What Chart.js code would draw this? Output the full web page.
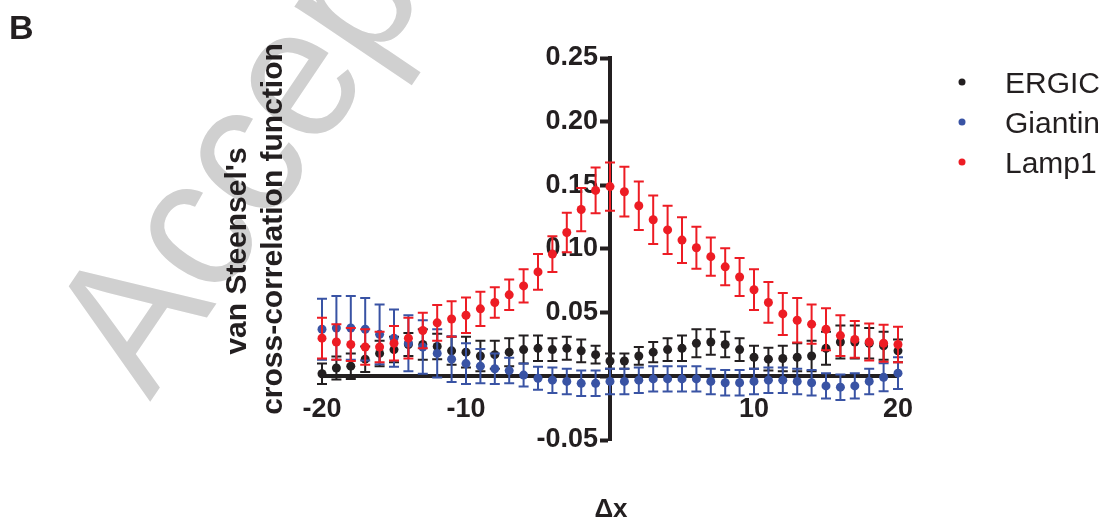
<!DOCTYPE html>
<html>
<head>
<meta charset="utf-8">
<script src="https://cdn.jsdelivr.net/npm/chart.js@4.4.0/dist/chart.umd.min.js"></script>
<style>
  html, body { margin: 0; padding: 0; background: #fff; }
  #wrap { position: relative; width: 1109px; height: 530px; }
</style>
</head>
<body>
<div id="wrap"><canvas id="ccf-chart"></canvas></div>
<script>
// pixel shift (delta x) of the cross-correlation
const deltaX = [-20, -19, -18, -17, -16, -15, -14, -13, -12, -11, -10, -9, -8, -7, -6, -5, -4, -3, -2, -1,
  0, 1, 2, 3, 4, 5, 6, 7, 8, 9, 10, 11, 12, 13, 14, 15, 16, 17, 18, 19, 20];

// mean values
const ergic = [0.002, 0.0065, 0.008, 0.0135, 0.018, 0.021, 0.025, 0.025, 0.0235, 0.020, 0.019, 0.016, 0.017, 0.019, 0.021, 0.022, 0.021, 0.022, 0.020, 0.017,
  0.012, 0.012, 0.016, 0.019, 0.021, 0.022, 0.026, 0.027, 0.025, 0.021, 0.015, 0.0135, 0.014, 0.015, 0.016, 0.022, 0.027, 0.027, 0.026, 0.024, 0.020];
const giantin = [0.037, 0.038, 0.038, 0.037, 0.033, 0.030, 0.026, 0.023, 0.018, 0.0135, 0.010, 0.008, 0.006, 0.0045, 0.001, -0.0015, -0.003, -0.004, -0.0055, -0.0055,
  -0.004, -0.004, -0.003, -0.002, -0.002, -0.002, -0.002, -0.004, -0.005, -0.005, -0.004, -0.003, -0.003, -0.004, -0.005, -0.0075, -0.0085, -0.0075, -0.004, -0.0007, 0.0025];
const lamp1 = [0.030, 0.027, 0.025, 0.023, 0.023, 0.026, 0.030, 0.036, 0.042, 0.045, 0.048, 0.053, 0.058, 0.064, 0.071, 0.082, 0.096, 0.113, 0.131, 0.146,
  0.149, 0.145, 0.134, 0.123, 0.115, 0.107, 0.101, 0.094, 0.086, 0.078, 0.068, 0.058, 0.049, 0.044, 0.041, 0.037, 0.032, 0.029, 0.027, 0.026, 0.025];

// error bar half lengths
const ergicErr = [0.008, 0.009, 0.010, 0.010, 0.010, 0.010, 0.009, 0.012, 0.010, 0.011, 0.012, 0.012, 0.011, 0.011, 0.011, 0.010, 0.009, 0.009, 0.009, 0.007,
  0.006, 0.006, 0.007, 0.008, 0.009, 0.010, 0.011, 0.010, 0.010, 0.009, 0.009, 0.009, 0.010, 0.011, 0.012, 0.013, 0.013, 0.013, 0.012, 0.011, 0.009];
const giantinErr = [0.024, 0.025, 0.025, 0.0245, 0.0235, 0.0225, 0.022, 0.021, 0.019, 0.018, 0.016, 0.0135, 0.012, 0.010, 0.009, 0.009, 0.010, 0.010, 0.010, 0.010,
  0.010, 0.010, 0.010, 0.010, 0.010, 0.010, 0.010, 0.010, 0.010, 0.010, 0.010, 0.010, 0.010, 0.010, 0.010, 0.010, 0.010, 0.010, 0.010, 0.011, 0.0125];
const lamp1Err = [0.016, 0.014, 0.013, 0.014, 0.012, 0.0135, 0.016, 0.014, 0.014, 0.014, 0.014, 0.0135, 0.012, 0.012, 0.013, 0.014, 0.014, 0.0155, 0.017, 0.018,
  0.019, 0.0195, 0.019, 0.019, 0.019, 0.018, 0.0165, 0.015, 0.0145, 0.015, 0.016, 0.016, 0.0165, 0.0175, 0.0155, 0.0165, 0.016, 0.0145, 0.0145, 0.0145, 0.014];

const seriesNames = ['ERGIC', 'Giantin', 'Lamp1'];
const seriesColors = ['#231f20', '#3953a4', '#ed1c24'];

const xTicks = [-20, -10, 0, 10, 20];
const yTicks = [-0.05, 0, 0.05, 0.10, 0.15, 0.20, 0.25];

const axisColor = '#231f20';
const fontFamily = '"Liberation Sans", Arial, Helvetica, sans-serif';

Chart.defaults.font.family = fontFamily;
Chart.defaults.color = axisColor;

// build {x, y} points from the arrays
function toPoints(values) {
  return deltaX.map((x, i) => ({ x: x, y: values[i] }));
}

// error bars drawn under each dataset's points
const errorBars = {
  id: 'errorBars',
  beforeDatasetDraw(chart, args) {
    const ds = chart.data.datasets[args.index];
    if (!ds.errors) return;
    const xs = chart.scales.x;
    const ys = chart.scales.y;
    const ctx = chart.ctx;
    ctx.save();
    ctx.strokeStyle = ds.backgroundColor;
    ctx.lineWidth = 2;
    ds.data.forEach((p, i) => {
      const e = ds.errors[i];
      const px = xs.getPixelForValue(p.x);
      const top = ys.getPixelForValue(p.y + e);
      const bot = ys.getPixelForValue(p.y - e);
      ctx.beginPath();
      ctx.moveTo(px, top); ctx.lineTo(px, bot);
      ctx.moveTo(px - 5, top); ctx.lineTo(px + 5, top);
      ctx.moveTo(px - 5, bot); ctx.lineTo(px + 5, bot);
      ctx.stroke();
    });
    ctx.restore();
  }
};

// watermark, panel letter, axis titles and the legend
const decorations = {
  id: 'decorations',
  beforeDraw(chart) {
    const ctx = chart.ctx;
    ctx.save();
    ctx.translate(150, 402);
    ctx.rotate(-56 * Math.PI / 180);
    ctx.scale(0.93, 1);
    ctx.fillStyle = '#d0d0d0';
    ctx.font = '192px ' + fontFamily;
    ctx.textBaseline = 'alphabetic';
    ctx.fillText('Accepted Manuscript', 0, 0);
    ctx.restore();
  },
  afterDraw(chart) {
    const ctx = chart.ctx;
    ctx.save();
    ctx.fillStyle = axisColor;
    ctx.textBaseline = 'alphabetic';

    ctx.font = 'bold 34px ' + fontFamily;
    ctx.textAlign = 'left';
    ctx.fillText('B', 9, 39);

    // y title, two lines
    ctx.font = 'bold 30px ' + fontFamily;
    ctx.textAlign = 'center';
    ctx.save();
    ctx.translate(246, 251);
    ctx.rotate(-Math.PI / 2);
    ctx.fillText("van Steensel's", 0, 0);
    ctx.restore();
    ctx.save();
    ctx.translate(282, 229);
    ctx.rotate(-Math.PI / 2);
    ctx.fillText('cross-correlation function', 0, 0);
    ctx.restore();

    // x title
    ctx.font = 'bold 26px ' + fontFamily;
    ctx.fillText('\u0394x', 611, 517);

    // legend
    ctx.font = '30px ' + fontFamily;
    ctx.textAlign = 'left';
    chart.data.datasets.forEach((ds, i) => {
      const cy = 82 + i * 40;
      ctx.fillStyle = ds.backgroundColor;
      ctx.beginPath();
      ctx.arc(962, cy, 3.5, 0, Math.PI * 2);
      ctx.fill();
      ctx.fillStyle = '#231f20';
      ctx.fillText(ds.label, 1005, cy + 11);
    });
    ctx.restore();
  }
};

const values = [ergic, giantin, lamp1];
const errors = [ergicErr, giantinErr, lamp1Err];

const chart = new Chart(document.getElementById('ccf-chart'), {
  type: 'scatter',
  data: {
    datasets: seriesNames.map((name, i) => ({
      label: name,
      data: toPoints(values[i]),
      errors: errors[i],
      backgroundColor: seriesColors[i],
      borderColor: seriesColors[i],
      borderWidth: 0,
      pointRadius: 4.5,
      pointHoverRadius: 4.5,
      order: 3 - i,
      clip: false
    }))
  },
  options: {
    responsive: true,
    maintainAspectRatio: false,
    animation: false,
    layout: { padding: { left: 322, right: 211, top: 58, bottom: 90 } },
    plugins: {
      legend: { display: false },
      tooltip: { enabled: false }
    },
    scales: {
      x: {
        type: 'linear',
        min: -20,
        max: 20,
        position: { y: 0 },
        afterFit: s => { s.height = 0; },
        afterBuildTicks: s => { s.ticks = xTicks.map(v => ({ value: v })); },
        grid: { drawOnChartArea: false, drawTicks: false },
        border: { color: axisColor, width: 4 },
        ticks: {
          padding: 17,
          font: { size: 27, weight: 'bold' },
          color: axisColor,
          maxRotation: 0,
          callback: v => (v === 0 ? '' : String(v))
        }
      },
      y: {
        type: 'linear',
        min: -0.05,
        max: 0.25,
        // x = 0 sits in the middle of the -20..20 range
        position: 'center',
        afterFit: s => { s.width = 0; },
        afterBuildTicks: s => { s.ticks = yTicks.map(v => ({ value: v })); },
        grid: { drawOnChartArea: false, drawTicks: true, tickLength: 8, tickWidth: 4, color: axisColor },
        border: { color: axisColor, width: 4 },
        ticks: {
          padding: 4,
          font: { size: 27, weight: 'bold' },
          color: axisColor,
          callback: v => (Math.abs(v) < 1e-9 ? '' : v.toFixed(2))
        }
      }
    }
  },
  plugins: [errorBars, decorations]
});
</script>
</body>
</html>
